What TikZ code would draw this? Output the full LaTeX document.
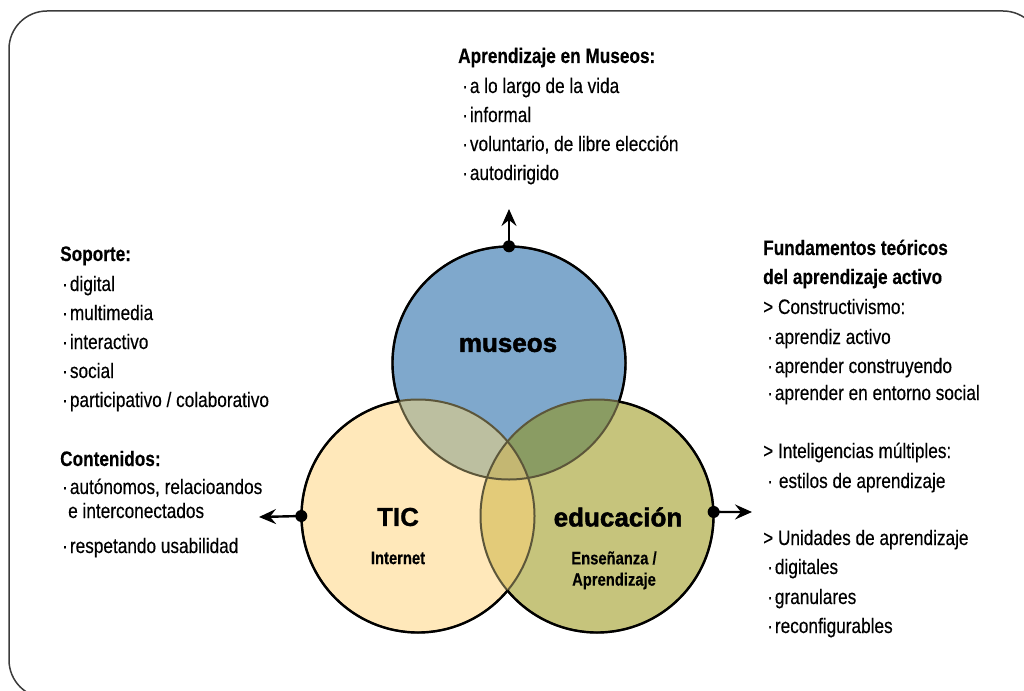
\documentclass[tikz,border=0pt]{standalone}
\usepackage{fontspec}
\setmainfont{Liberation Sans}[FakeStretch=0.82, FakeBold=0.3]
\newfontfamily\heavyfont{Liberation Sans}[FakeBold=1.8]
\newfontfamily\plainbold{Liberation Sans}[FakeBold=0.8]
\usetikzlibrary{arrows.meta}
\definecolor{cM}{RGB}{127,168,204}
\definecolor{cT}{RGB}{255,232,186}
\definecolor{cE}{RGB}{198,196,124}
\definecolor{cMT}{RGB}{188,191,160}
\definecolor{cME}{RGB}{138,156,99}
\definecolor{cTE}{RGB}{227,203,121}
\definecolor{cMTE}{RGB}{196,183,114}
\definecolor{innerline}{RGB}{92,86,58}
\definecolor{framecol}{RGB}{60,60,60}
\tikzset{
  txt/.style={anchor=base west, inner sep=0pt, font=\fontsize{21}{25}\selectfont},
  hdr/.style={anchor=base west, inner sep=0pt, font=\fontsize{21}{25}\selectfont\bfseries},
  biglabel/.style={inner sep=0pt, font=\heavyfont\fontsize{26}{30}\selectfont\bfseries},
  ticlabel/.style={inner sep=0pt, font=\plainbold\fontsize{26}{30}\selectfont\bfseries},
  sublabel/.style={inner sep=0pt, font=\fontsize{18}{21}\selectfont\bfseries},
  dotmark/.style={circle, fill=black, inner sep=0pt, minimum size=12pt},
  arr/.style={line width=2.4pt, -{Stealth[length=17pt, width=15pt, inset=6pt]}},
  venn/.style={circle, minimum size=233pt, inner sep=0pt},
}
\def\R{116.5pt}
\begin{document}
\begin{tikzpicture}[x=1pt,y=-1pt]
\useasboundingbox (0,0) rectangle (1024,690);
\draw[framecol, line width=1.5pt, rounded corners=38pt] (9,11) rectangle (1041,698);

% circles as named nodes
\node[venn] (M) at (509,363) {};
\node[venn] (T) at (418,516) {};
\node[venn] (E) at (597,516) {};

% fills
\fill[cM] (M.center) circle[radius=\R];
\fill[cT] (T.center) circle[radius=\R];
\fill[cE] (E.center) circle[radius=\R];
\begin{scope}
  \clip (M.center) circle[radius=\R];
  \fill[cMT] (T.center) circle[radius=\R];
  \fill[cME] (E.center) circle[radius=\R];
\end{scope}
\begin{scope}
  \clip (T.center) circle[radius=\R];
  \fill[cTE] (E.center) circle[radius=\R];
\end{scope}
\begin{scope}
  \clip (M.center) circle[radius=\R];
  \clip (T.center) circle[radius=\R];
  \fill[cMTE] (E.center) circle[radius=\R];
\end{scope}

% inner (muted) outlines
\draw[innerline, line width=2pt] (M.center) circle[radius=\R];
\draw[innerline, line width=2pt] (T.center) circle[radius=\R];
\draw[innerline, line width=2pt] (E.center) circle[radius=\R];

% outer black outlines
\begin{scope}[even odd rule]
  \clip (0,0) rectangle (1024,690) (T.center) circle[radius=\R];
  \clip (0,0) rectangle (1024,690) (E.center) circle[radius=\R];
  \draw[black, line width=2.4pt] (M.center) circle[radius=\R];
\end{scope}
\begin{scope}[even odd rule]
  \clip (0,0) rectangle (1024,690) (M.center) circle[radius=\R];
  \clip (0,0) rectangle (1024,690) (E.center) circle[radius=\R];
  \draw[black, line width=2.4pt] (T.center) circle[radius=\R];
\end{scope}
\begin{scope}[even odd rule]
  \clip (0,0) rectangle (1024,690) (M.center) circle[radius=\R];
  \clip (0,0) rectangle (1024,690) (T.center) circle[radius=\R];
  \draw[black, line width=2.4pt] (E.center) circle[radius=\R];
\end{scope}

% circle labels
\node[biglabel] (lm) at (508,345) {museos};
\node[ticlabel] (lt) at (398,517) {TIC};
\node[biglabel] (le) at (618,517) {educación};
\node[sublabel] (li) at (398,558) {Internet};
\node[sublabel] (lea) at (614,558) {Enseñanza /};
\node[sublabel] (leb) at (614,581) {Aprendizaje};

% connectors
\coordinate (mtip) at (509,209);
\coordinate (ttip) at (259,517);
\coordinate (etip) at (752,512);
\node[dotmark] (md) at (M.north) {};
\node[dotmark] (td) at (T.west) {};
\node[dotmark] (ed) at (E.2) {};
\draw[arr] (md.center) -- (mtip);
\draw[arr] (td.center) -- (ttip);
\draw[arr] (ed.center) -- (etip);

% top block
\node[hdr] (a0) at (458,63) {Aprendizaje en Museos:};
\node[txt] (a1) at (462,93) {·\hspace{2pt}a lo largo de la vida};
\node[txt] (a2) at (462,122) {·\hspace{2pt}informal};
\node[txt] (a3) at (462,151) {·\hspace{2pt}voluntario, de libre elección};
\node[txt] (a4) at (462,180) {·\hspace{2pt}autodirigido};

% left block
\node[hdr] (s0) at (60,261) {Soporte:};
\node[txt] (s1) at (62,291) {·\hspace{2pt}digital};
\node[txt] (s2) at (62,320) {·\hspace{2pt}multimedia};
\node[txt] (s3) at (62,349) {·\hspace{2pt}interactivo};
\node[txt] (s4) at (62,378) {·\hspace{2pt}social};
\node[txt] (s5) at (62,407) {·\hspace{2pt}participativo / colaborativo};
\node[hdr] (c0) at (60,466) {Contenidos:};
\node[txt] (c1) at (62,494) {·\hspace{2pt}autónomos, relacioandos};
\node[txt] (c2) at (68,518) {e interconectados};
\node[txt] (c3) at (62,553) {·\hspace{2pt}respetando usabilidad};

% right block
\node[hdr] (f0) at (763,255) {Fundamentos teóricos};
\node[hdr] (f1) at (763,284) {del aprendizaje activo};
\node[txt] (f2) at (763,314) {> Constructivismo:};
\node[txt] (f3) at (767,344) {·\hspace{2pt}aprendiz activo};
\node[txt] (f4) at (767,373) {·\hspace{2pt}aprender construyendo};
\node[txt] (f5) at (767,400) {·\hspace{2pt}aprender en entorno social};
\node[txt] (f6) at (763,458) {> Inteligencias múltiples:};
\node[txt] (f7) at (767,488) {·\hspace{6pt}estilos de aprendizaje};
\node[txt] (f8) at (763,545) {> Unidades de aprendizaje};
\node[txt] (f9) at (767,574) {·\hspace{2pt}digitales};
\node[txt] (f10) at (767,604) {·\hspace{2pt}granulares};
\node[txt] (f11) at (767,633) {·\hspace{2pt}reconfigurables};
\end{tikzpicture}
\end{document}
